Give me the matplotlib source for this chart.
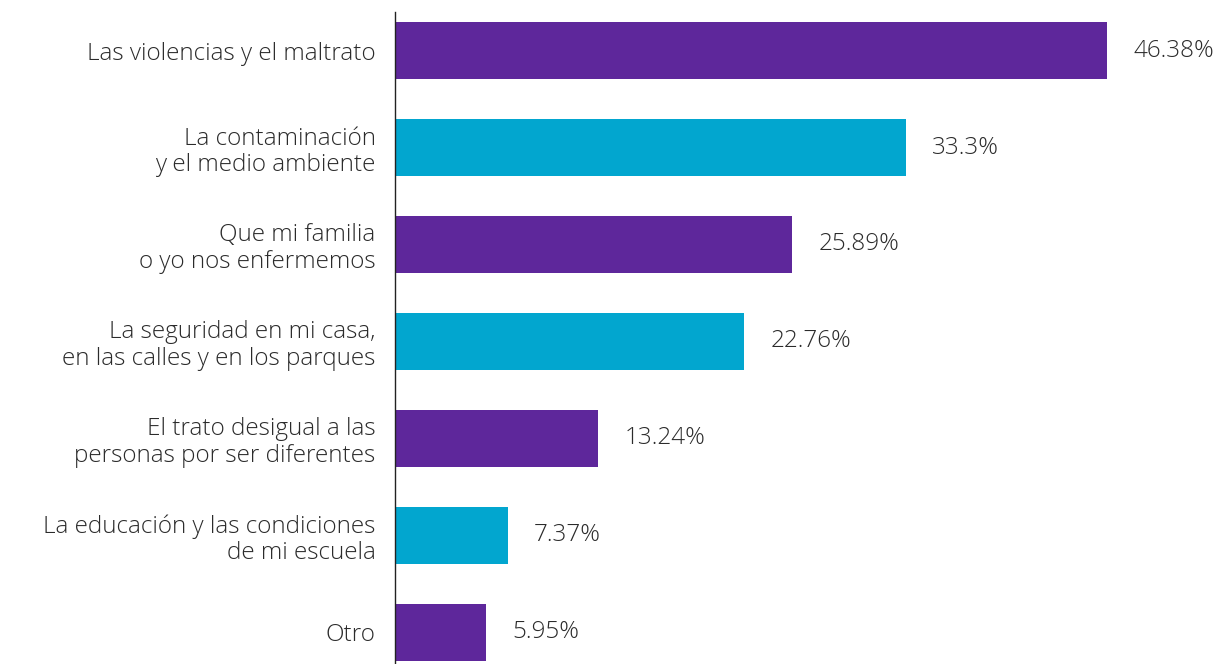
import matplotlib
matplotlib.use("Agg")
import matplotlib.pyplot as plt

# Data
categories = [
    "Las violencias y el maltrato",
    "La contaminación\ny el medio ambiente",
    "Que mi familia\no yo nos enfermemos",
    "La seguridad en mi casa,\nen las calles y en los parques",
    "El trato desigual a las\npersonas por ser diferentes",
    "La educación y las condiciones\nde mi escuela",
    "Otro",
]
values = [46.38, 33.3, 25.89, 22.76, 13.24, 7.37, 5.95]
value_labels = ["46.38%", "33.3%", "25.89%", "22.76%", "13.24%", "7.37%", "5.95%"]

purple = "#5E279B"
cyan = "#02A6CF"
text_color = "#2b2b2b"

plt.rcParams['font.family'] = ['Open Sans', 'DejaVu Sans']

fig = plt.figure(figsize=(12.21, 6.64), dpi=100)
ax = fig.add_axes([395 / 1221, 0, 1 - 395 / 1221, (664 - 12) / 664])

pos = list(range(len(values)))
colors = [purple if i % 2 == 0 else cyan for i in pos]
ax.barh(pos, values, height=0.59, color=colors)

for p, v, lab in zip(pos, values, value_labels):
    ax.text(v + 1.7, p, lab, va='center', ha='left', fontsize=17.5,
            color=text_color, fontweight='light')

ax.set_yticks(pos)
ax.set_yticklabels(categories, fontsize=17.5, color=text_color,
                   fontweight='light', linespacing=1.15)
ax.tick_params(axis='y', length=0, pad=14)
ax.set_xticks([])
ax.set_xlim(0, (1221 - 395) / 15.35)
ax.set_ylim(6.325, -0.397)

for side in ['top', 'right', 'bottom']:
    ax.spines[side].set_visible(False)
ax.spines['left'].set_color('#222222')
ax.spines['left'].set_linewidth(1)

fig.savefig("out.png", dpi=100)
